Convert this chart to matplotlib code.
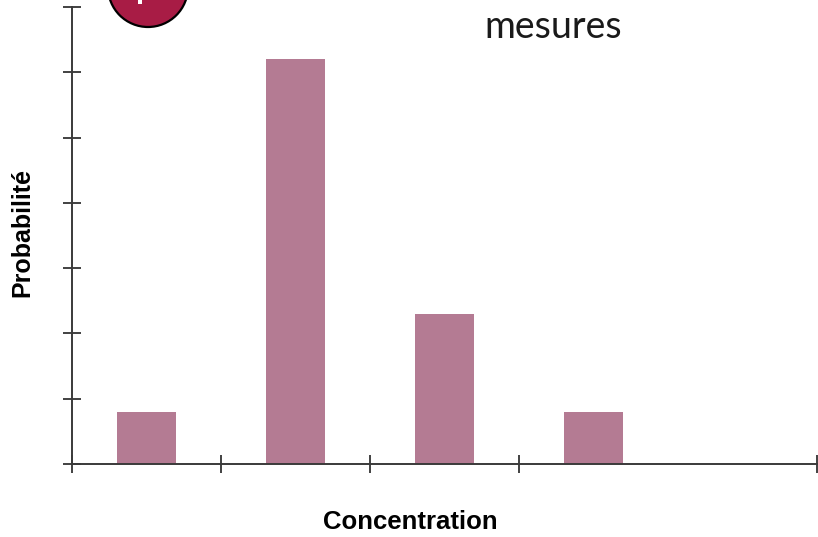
import matplotlib
matplotlib.use("Agg")
import matplotlib.pyplot as plt
from matplotlib.patches import Ellipse, Rectangle

# probability of each concentration class
centres = [0.5, 1.5, 2.5, 3.5]
probas = [0.8, 6.2, 2.3, 0.8]
xticks = [0, 1, 2, 3, 5]
yticks = [0, 1, 2, 3, 4, 5, 6, 7]

W, H = 818, 537
fig = plt.figure(figsize=(W / 100, H / 100), dpi=100)
ax = fig.add_axes([72/W, 73/H, 745/W, 457/H])

ax.bar(centres, probas, width=0.39, color="#b47b93", edgecolor="none")

ax.set_xlim(0, 5)
ax.set_ylim(0, 7)
ax.set_xticks(xticks)
ax.set_yticks(yticks)
ax.set_xticklabels([])
ax.set_yticklabels([])
ax.tick_params(direction="inout", length=13, width=1.3, color="#333333")
for s in ["top", "right"]:
    ax.spines[s].set_visible(False)
for s in ["left", "bottom"]:
    ax.spines[s].set_color("#3a3a3a")
    ax.spines[s].set_linewidth(1.4)

bold = ["Liberation Sans", "DejaVu Sans"]
fig.text(22/W, 1 - 233/H, "Probabilité", rotation=90, ha="center", va="center",
         fontsize=18, fontweight="bold", family=bold)
fig.text(410/W, 1 - 522/H, "Concentration", ha="center", va="center",
         fontsize=18.5, fontweight="bold", family=bold)

fig.text(553/W, 1 - 27/H, "mesures", ha="center", va="center",
         fontsize=27, fontweight="normal", family=["Lato", "DejaVu Sans"], color="#1a1a1a")

# numbered badge in the top corner
badge = Ellipse((148/W, 1 + 13/H), 80/W, 80/H, transform=fig.transFigure,
                facecolor="#a81c45", edgecolor="black", linewidth=1.6, clip_on=False)
fig.patches.append(badge)
stub = Rectangle((138/W, 1 - 4/H), 4/W, 4/H, transform=fig.transFigure,
                 facecolor="white", edgecolor="none")
fig.patches.append(stub)

fig.savefig("out.png", dpi=100)
